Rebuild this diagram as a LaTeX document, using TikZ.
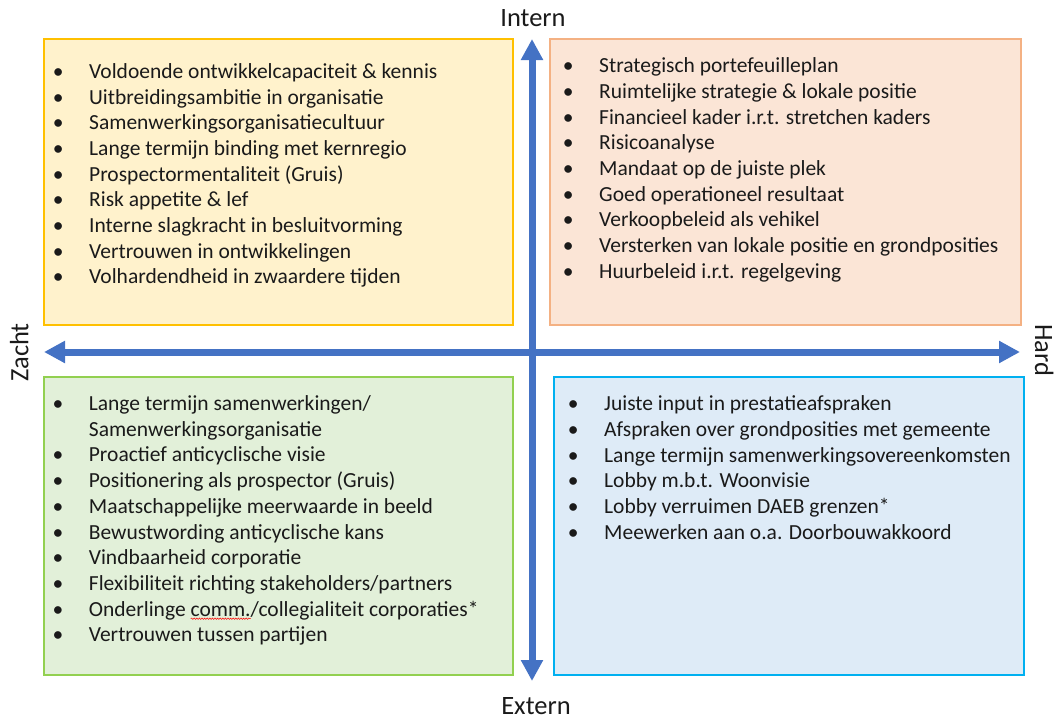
\documentclass[tikz,border=0pt]{standalone}
\usepackage{fontspec}
\setmainfont{Carlito}
\usetikzlibrary{arrows.meta,decorations.pathmorphing}

\definecolor{axisblue}{HTML}{4472C4}
\definecolor{yfill}{HTML}{FFF2CC}\definecolor{ydraw}{HTML}{FFC000}
\definecolor{ofill}{HTML}{FBE5D6}\definecolor{odraw}{HTML}{F4B183}
\definecolor{gfill}{HTML}{E2F0D9}\definecolor{gdraw}{HTML}{92D050}
\definecolor{bfill}{HTML}{DEEBF7}\definecolor{bdraw}{HTML}{00B0F0}
\definecolor{txt}{HTML}{1A1A1A}

% bullet hanging 31pt left of the item text
\newcommand\bul{\llap{\makebox[0pt]{\textbullet}\hspace{31pt}}}
% red wavy spell-check underline
\newlength\squigw
\newcommand\squig[1]{\settowidth\squigw{#1}\rlap{\tikz[baseline=0pt,x=1pt,y=1pt]\draw[red,line width=0.5pt,decorate,decoration={snake,amplitude=0.7pt,segment length=2.6pt}] (0,-2.6) -- (\squigw,-2.6);}#1}

\begin{document}
\begin{tikzpicture}[x=1pt,y=-1pt,
  quad/.style={draw,line width=1.8pt,inner sep=0pt,anchor=north west},
  item/.style={anchor=base west,inner sep=0pt,text=txt,font=\fontsize{21.5}{25}\selectfont},
  axislbl/.style={inner sep=0pt,text=txt,font=\fontsize{26.5}{30}\selectfont},
  axis/.style={axisblue,line width=7pt,{Triangle[length=21pt,width=21pt]}-{Triangle[length=21pt,width=21pt]}}]

\useasboundingbox (0,0) rectangle (1056,720);

% quadrant boxes
\node[quad,fill=yfill,draw=ydraw,minimum width=469pt,minimum height=286pt] (qy) at (43,38) {};
\node[quad,fill=ofill,draw=odraw,minimum width=471pt,minimum height=286pt] (qo) at (549,38) {};
\node[quad,fill=gfill,draw=gdraw,minimum width=469pt,minimum height=298pt] (qg) at (43,376) {};
\node[quad,fill=bfill,draw=bdraw,minimum width=470pt,minimum height=298pt] (qb) at (553,376) {};

% axes
\coordinate (top) at (532,39);
\coordinate (bottom) at (532,681);
\coordinate (left) at (44,352);
\coordinate (right) at (1020,352);
\draw[axis] (left) -- (right);
\draw[axis] (top) -- (bottom);

% axis labels
\node[axislbl,anchor=base] (intern) at (533,26.7) {Intern};
\node[axislbl,anchor=base] (extern) at (536,714.5) {Extern};
\node[axislbl,rotate=90,anchor=base] (zacht) at (28.3,352.5) {Zacht};
\node[axislbl,rotate=-90,anchor=base] (hard) at (1035,350) {Hard};

% intern / zacht
\foreach \t [count=\i from 0] in {
  {\bul Voldoende ontwikkelcapaciteit \& kennis},
  {\bul Uitbreidingsambitie in organisatie},
  {\bul Samenwerkingsorganisatiecultuur},
  {\bul Lange termijn binding met kernregio},
  {\bul Prospectormentaliteit (Gruis)},
  {\bul Risk appetite \& lef},
  {\bul Interne slagkracht in besluitvorming},
  {\bul Vertrouwen in ontwikkelingen},
  {\bul Volhardendheid in zwaardere tijden}}
  \node[item] (y\i) at (89,78.3+\i*25.7) {\t};

% intern / hard
\foreach \t [count=\i from 0] in {
  {\bul Strategisch portefeuilleplan},
  {\bul Ruimtelijke strategie \& lokale positie},
  {\bul Financieel kader i.r.t. stretchen kaders},
  {\bul Risicoanalyse},
  {\bul Mandaat op de juiste plek},
  {\bul Goed operationeel resultaat},
  {\bul Verkoopbeleid als vehikel},
  {\bul Versterken van lokale positie en grondposities},
  {\bul Huurbeleid i.r.t. regelgeving}}
  \node[item] (o\i) at (599,72.7+\i*25.7) {\t};

% extern / zacht
\foreach \t [count=\i from 0] in {
  {\bul Lange termijn samenwerkingen/},
  {Samenwerkingsorganisatie},
  {\bul Proactief anticyclische visie},
  {\bul Positionering als prospector (Gruis)},
  {\bul Maatschappelijke meerwaarde in beeld},
  {\bul Bewustwording anticyclische kans},
  {\bul Vindbaarheid corporatie},
  {\bul Flexibiliteit richting stakeholders/partners},
  {\bul Onderlinge \squig{comm.}/collegialiteit corporaties*},
  {\bul Vertrouwen tussen partijen}}
  \node[item] (g\i) at (88.7,410.5+\i*25.7) {\t};

% extern / hard
\foreach \t [count=\i from 0] in {
  {\bul Juiste input in prestatieafspraken},
  {\bul Afspraken over grondposities met gemeente},
  {\bul Lange termijn samenwerkingsovereenkomsten},
  {\bul Lobby m.b.t. Woonvisie},
  {\bul Lobby verruimen DAEB grenzen*},
  {\bul Meewerken aan o.a. Doorbouwakkoord}}
  \node[item] (b\i) at (604,410.5+\i*25.8) {\t};

\end{tikzpicture}
\end{document}
